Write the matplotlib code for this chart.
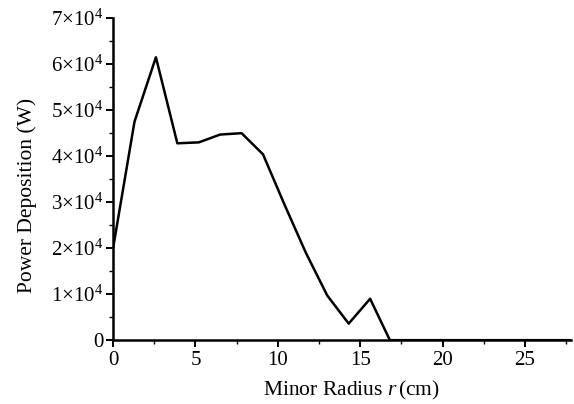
import matplotlib
matplotlib.use('Agg')
import matplotlib.pyplot as plt
from matplotlib.ticker import MultipleLocator, FuncFormatter

# data
radius = [0.0, 1.3, 2.6, 3.9, 5.2, 6.5, 7.8, 9.1, 10.4, 11.7, 13.0, 14.3, 15.6, 16.8,
          18.2, 19.5, 20.8, 22.1, 23.4, 24.7, 26.0, 27.3, 27.8]
power = [2.0e4, 4.75e4, 6.15e4, 4.28e4, 4.3e4, 4.47e4, 4.5e4, 4.04e4, 2.95e4, 1.9e4,
         0.97e4, 0.36e4, 0.9e4, 0.0,
         0, 0, 0, 0, 0, 0, 0, 0, 0]

plt.rcParams['font.family'] = 'Liberation Serif'
plt.rcParams['mathtext.fontset'] = 'custom'
plt.rcParams['mathtext.rm'] = 'Liberation Serif'
plt.rcParams['mathtext.it'] = 'Liberation Serif:italic'

fig = plt.figure(figsize=(5.74, 4.04), dpi=100)
ax = fig.add_axes([0.197, 0.158, 0.798, 0.797])

ax.plot(radius, power, color='black', lw=1.8)

ax.set_xlim(0, 27.8)
ax.set_ylim(0, 7e4)
ax.xaxis.set_major_locator(MultipleLocator(5))
ax.xaxis.set_minor_locator(MultipleLocator(2.5))
ax.yaxis.set_major_locator(MultipleLocator(1e4))
ax.yaxis.set_minor_locator(MultipleLocator(0.5e4))


def yfmt(v, pos):
    n = int(round(v / 1e4))
    if n == 0:
        return '0'
    return r'$\mathrm{%d{\times}10^4}$' % n


ax.yaxis.set_major_formatter(FuncFormatter(yfmt))

for side in ['top', 'right']:
    ax.spines[side].set_visible(False)
for side in ['left', 'bottom']:
    ax.spines[side].set_linewidth(1.8)

ax.tick_params(which='major', direction='out', length=5, width=1.4, labelsize=15, colors='black')
ax.tick_params(which='minor', direction='out', length=3, width=1.0)
ax.tick_params(axis='x', pad=3)
ax.tick_params(axis='y', pad=2)

ax.set_xlabel(r'Minor Radius $\mathit{r}\,$(cm)', fontsize=15.5)
ax.set_ylabel('Power Deposition (W)', fontsize=15.5)
ax.xaxis.set_label_coords(0.52, -0.12)
ax.yaxis.set_label_coords(-0.165, 0.45)

fig.savefig('out.png', dpi=100)
